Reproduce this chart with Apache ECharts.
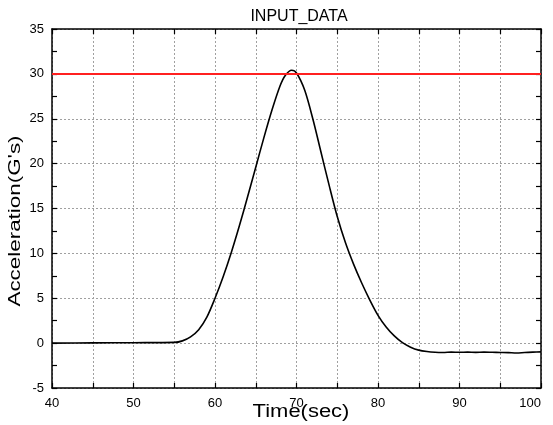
<!DOCTYPE html>
<html>
<head>
<meta charset="utf-8">
<script src="https://cdn.jsdelivr.net/npm/echarts@6/dist/echarts.min.js"></script>
<style>
html,body{margin:0;padding:0;background:#fff;}
#c{width:553px;height:425px;}
</style>
</head>
<body>
<div id="c"></div>
<script>
var chartTitle = 'INPUT_DATA';
var xLabel = 'Time(sec)';
var yLabel = "Acceleration(G's)";
var timeSec = [40, 45, 50, 55, 56, 57, 58, 59, 60, 61, 62, 63, 64, 65, 66, 67, 68, 68.6, 69.4, 70, 71, 72, 73, 74, 75, 76, 77, 78, 79, 80, 81, 82, 83, 84, 85, 86, 87, 88, 89, 90, 91, 92, 93, 94, 95, 96, 97, 98, 99, 100];
var accelG = [0, 0.03, 0.05, 0.08, 0.25, 0.7, 1.5, 2.9, 5.0, 7.4, 10.1, 13.1, 16.3, 19.6, 22.9, 26.0, 28.7, 29.8, 30.4, 30.1, 28.2, 25.0, 21.3, 17.6, 14.1, 11.2, 8.8, 6.7, 4.8, 3.1, 1.8, 0.8, 0.05, -0.45, -0.78, -0.94, -1.02, -1.04, -1.0, -1.02, -1.0, -1.03, -1.0, -1.02, -1.04, -1.06, -1.1, -1.04, -1.0, -0.97];
var thresholdG = 30;

var pts = timeSec.map(function(t, i){ return [t, accelG[i]]; });
var chart = echarts.init(document.getElementById('c'), null, {renderer:'canvas'});
var font = 'Liberation Sans, Arial, sans-serif';
var gridDash = {show:true, lineStyle:{color:'#a0a0a0', type:[2,2], width:1}};
function xAx(pos, labels){
  return {type:'value', position:pos, min:40, max:100, interval:10,
    axisLine:{show:true, onZero:false, lineStyle:{color:'#000', width:1.5}},
    axisTick:{show:true, inside:true, length:5, lineStyle:{color:'#000', width:1.2}},
    minorTick:{show:true, splitNumber:2, length:5, lineStyle:{color:'#000', width:1.2}},
    splitLine: labels ? gridDash : {show:false},
    minorSplitLine: labels ? gridDash : {show:false},
    axisLabel:{show:labels, color:'#000', fontSize:13, fontFamily:font, margin:9, alignMaxLabel:'right'}
  };
}
function yAx(pos, labels){
  return {type:'value', position:pos, min:-5, max:35, interval:5,
    axisLine:{show:true, onZero:false, lineStyle:{color:'#000', width:1.5}},
    axisTick:{show:true, inside:true, length:5, lineStyle:{color:'#000', width:1.2}},
    minorTick:{show:true, splitNumber:2, length:5, lineStyle:{color:'#000', width:1.2}},
    splitLine: labels ? gridDash : {show:false},
    axisLabel:{show:labels, color:'#000', fontSize:13, fontFamily:font, margin:8}
  };
}
chart.setOption({
  animation:false,
  backgroundColor:'#fff',
  title:{text:chartTitle, left:294, top:4, textAlign:'center',
    textStyle:{color:'#000', fontSize:16, fontWeight:'normal', fontFamily:font}},
  grid:{left:52, right:12, top:29, bottom:37, containLabel:false, outerBoundsMode:'none'},
  xAxis:[xAx('bottom', true), xAx('top', false)],
  yAxis:[yAx('left', true), yAx('right', false)],
  graphic:[
    {type:'text', x:301, y:412, scaleX:1.22, silent:true,
      style:{text:xLabel, font:'18px Liberation Sans, Arial, sans-serif', fill:'#000', textAlign:'center', textVerticalAlign:'middle'}},
    {type:'text', x:16, y:221, rotation:Math.PI/2, scaleX:1.4, silent:true,
      style:{text:yLabel, font:'16px Liberation Sans, Arial, sans-serif', fill:'#000', textAlign:'center', textVerticalAlign:'middle'}}
  ],
  series:[{
    type:'line', data:pts, showSymbol:false, smooth:0.3,
    lineStyle:{color:'#000', width:1.6},
    markLine:{silent:true, symbol:'none', label:{show:false},
      lineStyle:{color:'#ff2020', width:2, type:'solid'},
      data:[{yAxis:thresholdG}]}
  }]
});
</script>
</body>
</html>
